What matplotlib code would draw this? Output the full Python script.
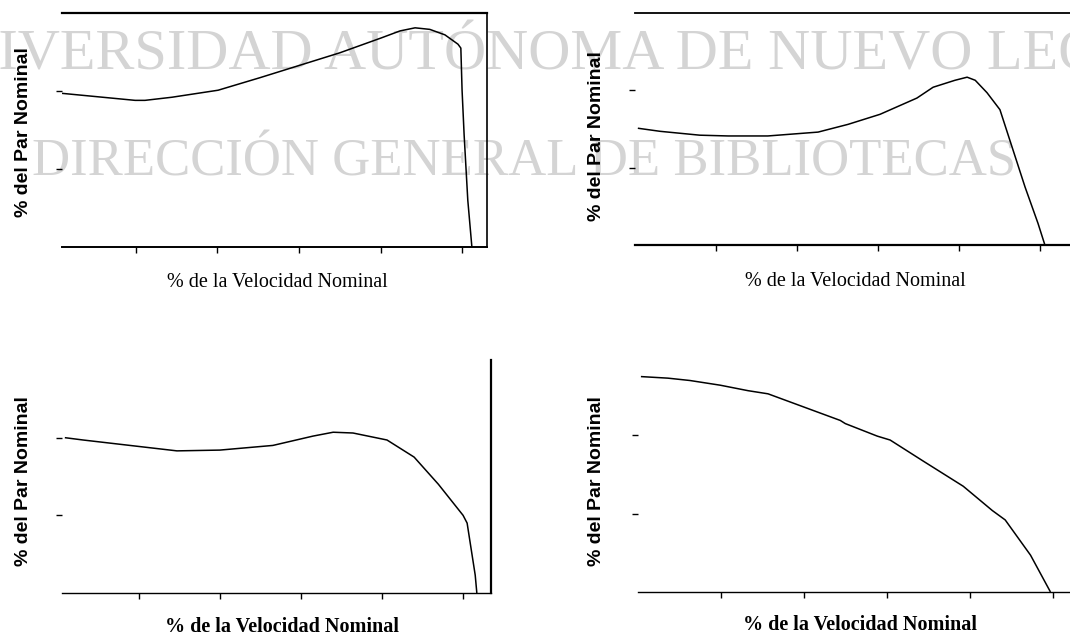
import matplotlib
matplotlib.use("Agg")
import matplotlib.pyplot as plt

# % de la velocidad nominal / % del par nominal
speed_1 = [2.0, 19.9, 22.3, 28.9, 40.2, 50.4, 60.2, 70.0, 80.1, 84.7, 88.4, 92.0, 95.7, 98.9, 99.6, 99.9, 100.4, 101.3, 102.3]
torque_1 = [197, 188, 188, 192, 201, 217, 233, 249, 268, 277, 281, 279, 272, 260, 255, 201, 144, 60, 0]

speed_2 = [0.7, 6.2, 16.0, 23.0, 32.8, 45.2, 52.6, 60.5, 69.6, 73.6, 79.0, 82.0, 84.0, 86.9, 90.1, 96.3, 99.5, 101.2]
torque_2 = [151, 147, 142, 141, 141, 146, 156, 169, 190, 204, 213, 217, 213, 197, 175, 75, 28, 0]

speed_3 = [1.7, 6.2, 29.4, 40.0, 53.1, 63.0, 68.0, 72.9, 81.3, 88.0, 94.0, 100.1, 101.1, 103.1, 103.5]
torque_3 = [200, 197, 183, 184, 190, 202, 207, 206, 197, 175, 140, 100, 90, 23, 0]

speed_4 = [0.7, 7.2, 12.5, 19.8, 26.5, 31.3, 48.7, 49.9, 57.6, 60.7, 68.7, 78.3, 85.3, 88.4, 94.5, 99.3]
torque_4 = [275, 273, 270, 264, 257, 253, 219, 215, 199, 194, 167, 135, 104, 92, 47, 0]

speed_ticks = [20, 40, 60, 80, 100]
torque_ticks = [100, 200]

xlabel = "% de la Velocidad Nominal"
ylabel = "% del Par Nominal"

W, H = 1070, 636
fig = plt.figure(figsize=(W / 100, H / 100), dpi=100)


def rect(l, t, r, b):
    return [l / W, 1 - b / H, (r - l) / W, (b - t) / H]


def panel(box, speed, torque, xlim, spines, ylab_xy, xlab_xy, label_weight):
    ax = fig.add_axes(rect(*box))
    ax.patch.set_alpha(0)
    ax.plot(speed, torque, color="black", lw=1.1, solid_capstyle="butt")
    ax.set_xlim(*xlim)
    ax.set_ylim(0, 300)
    ax.set_xticks(speed_ticks)
    ax.set_yticks(torque_ticks)
    ax.set_xticklabels([])
    ax.set_yticklabels([])
    ax.tick_params(direction="out", length=4, width=1, color="black")
    for side in ["top", "bottom", "left", "right"]:
        if side in spines:
            ax.spines[side].set_linewidth(spines[side])
        else:
            ax.spines[side].set_visible(False)
    ax.set_xlabel(xlabel, family="Liberation Serif", fontsize=14.5, fontweight=label_weight)
    ax.set_ylabel(ylabel, family="Liberation Sans", fontsize=14, fontweight="bold")
    ax.xaxis.set_label_coords(*xlab_xy)
    ax.yaxis.set_label_coords(*ylab_xy)
    return ax


panel((62, 13, 487, 247), speed_1, torque_1, (2, 106),
      {"top": 1.6, "bottom": 1.4, "right": 1.2}, (-0.071, 0.49), (0.506, -0.111), "normal")
panel((635, 13, 1070, 245), speed_2, torque_2, (0, 107.4),
      {"top": 1.3, "bottom": 1.6}, (-0.069, 0.47), (0.506, -0.116), "normal")
panel((62, 360, 491, 593), speed_3, torque_3, (1, 107),
      {"bottom": 1.0, "right": 1.6}, (-0.07, 0.48), (0.513, -0.105), "bold")
panel((638, 357, 1070, 592), speed_4, torque_4, (0, 104),
      {"bottom": 1.0}, (-0.076, 0.47), (0.514, -0.1), "bold")

# library stamp over the scanned page
wm = dict(family="Liberation Serif", color="#d4d4d4", va="baseline", ha="left", zorder=-1)
fig.text(-86 / W, 1 - 69 / H, "UNIVERSIDAD AUTÓNOMA DE NUEVO LEÓN", fontsize=42, **wm)
fig.text(32 / W, 1 - 175 / H, "DIRECCIÓN GENERAL DE BIBLIOTECAS", fontsize=38, **wm)

fig.savefig("out.png", dpi=100, facecolor="white")
